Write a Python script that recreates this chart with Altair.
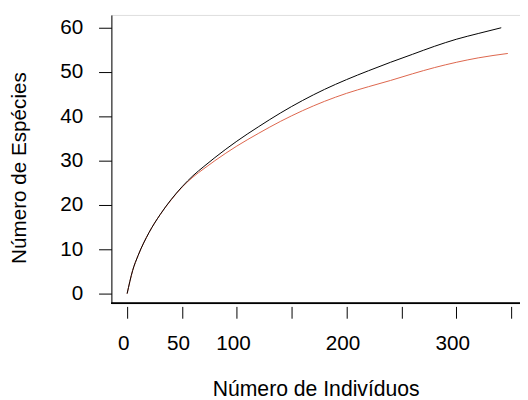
import altair as alt
import pandas as pd

# Curve 1 (black)
x_black = [0, 5, 10, 20, 30, 40, 50, 60, 70, 80, 90, 100, 120, 140, 160, 180,
           200, 220, 240, 260, 280, 300, 320, 341]
y_black = [0, 5.2, 8.6, 13.8, 17.8, 21.2, 24.1, 26.6, 28.7, 30.7, 32.6, 34.4,
           37.7, 40.8, 43.6, 46.1, 48.3, 50.3, 52.2, 54.0, 55.8, 57.4, 58.7, 60.0]

# Curve 2 (red)
x_red = [0, 5, 10, 20, 30, 40, 50, 60, 70, 80, 90, 100, 120, 140, 160, 180,
         200, 220, 240, 260, 280, 300, 320, 347]
y_red = [0, 5.2, 8.6, 13.8, 17.8, 21.1, 24.0, 26.3, 28.2, 30.0, 31.7, 33.3,
         36.2, 38.9, 41.3, 43.4, 45.2, 46.7, 48.1, 49.6, 51.0, 52.2, 53.2, 54.2]

x_ticks = [0, 50, 100, 150, 200, 250, 300, 350]
x_labels_shown = [0, 50, 100, 200, 300]
y_ticks = [0, 10, 20, 30, 40, 50, 60]

x_title = "Número de Indivíduos"
y_title = "Número de Espécies"

df_black = pd.DataFrame({"x": x_black, "y": y_black})
df_red = pd.DataFrame({"x": x_red, "y": y_red})

FONT = "Liberation Sans"
FS = 21
W, H = 415, 293

hidden = [t for t in x_ticks if t not in x_labels_shown]
label_expr = "indexof(%s, datum.value) >= 0 ? '' : datum.label" % str(hidden)

xscale = alt.Scale(domain=[-14.36, 358.1], nice=False, zero=False)
yscale = alt.Scale(domain=[-2.22, 62.89], nice=False, zero=False)

xaxis = alt.Axis(
    values=x_ticks, labelExpr=label_expr, domain=False, offset=3,
    tickSize=12, tickColor="black", tickWidth=1, grid=False,
    labelFont=FONT, labelFontSize=FS, labelColor="black", labelPadding=15,
    labelOffset=-4, labelFlush=False, labelOverlap=False, labelBound=False,
    title=x_title, titleFont=FONT, titleFontSize=21.5, titleFontWeight="normal",
    titleColor="black", titleY=90, titleBaseline="alphabetic",
)
yaxis = alt.Axis(
    values=y_ticks, domain=True, domainColor="black", domainWidth=1,
    tickSize=13, tickColor="black", tickWidth=1, grid=False,
    labelFont=FONT, labelFontSize=FS, labelColor="black", labelPadding=16,
    labelFlush=False, labelOverlap=False,
    title=y_title, titleFont=FONT, titleFontSize=FS, titleFontWeight="normal",
    titleColor="black", titleAngle=270, titleX=-87, titleY=155,
    titleAlign="center", titleBaseline="alphabetic",
)

red = alt.Chart(df_red).mark_line(color="#dc654b", strokeWidth=1, interpolate="monotone").encode(
    x=alt.X("x:Q", scale=xscale, axis=xaxis),
    y=alt.Y("y:Q", scale=yscale, axis=yaxis),
)
black = alt.Chart(df_black).mark_line(color="black", strokeWidth=1, interpolate="monotone").encode(
    x=alt.X("x:Q", scale=xscale),
    y=alt.Y("y:Q", scale=yscale),
)
bottom_line = alt.Chart(df_black).mark_rule(color="black", strokeWidth=1).encode(
    x=alt.value(0), x2=alt.value(W), y=alt.value(H)
)

chart = alt.layer(red, black, bottom_line).properties(
    width=W, height=H,
    autosize=alt.AutoSizeParams(type="none"),
    padding={"left": 105, "top": 4, "right": 0, "bottom": 95},
).configure_view(stroke=None).configure(background="white")

chart.save("out.html", embed_options={"renderer": "svg", "actions": False})
